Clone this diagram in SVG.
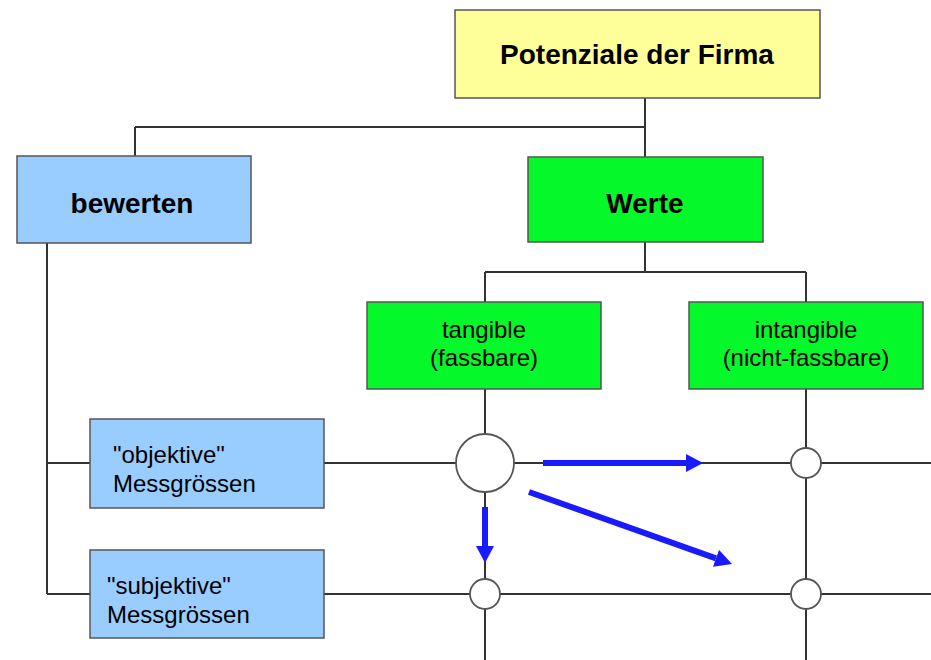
<svg xmlns="http://www.w3.org/2000/svg" width="931" height="660" viewBox="0 0 931 660">
  <style>
    .box { stroke: #555; stroke-width: 1.5; }
    .yellow { fill: #FFFF99; }
    .blue { fill: #99CCFF; }
    .green { fill: #05F82A; }
    .title { font-family: "Liberation Sans", Arial, sans-serif; font-weight: bold; font-size: 28px; fill: #000; text-anchor: middle; }
    .label { font-family: "Liberation Sans", Arial, sans-serif; font-size: 24px; fill: #000; }
    .mid { text-anchor: middle; }
    .wire { stroke: #333; stroke-width: 2; fill: none; }
    .node { fill: #fff; stroke: #555; stroke-width: 1.8; }
    .flow { stroke: #1A1AFF; stroke-width: 6; fill: none; marker-end: url(#head); }
  </style>
  <defs>
    <marker id="head" markerUnits="userSpaceOnUse" markerWidth="18" markerHeight="18" refX="0" refY="9" orient="auto">
      <path d="M0,0 L17,9 L0,18 z" fill="#1A1AFF"/>
    </marker>
  </defs>

  <rect width="931" height="660" fill="#fff"/>

  <!-- tree and grid lines -->
  <g id="connectors">
    <path class="wire" d="M645,98 V157 M135,127 H645 M135,127 V156"/>
    <path class="wire" d="M645,242 V272 M485,272 H806 M485,272 V302 M806,272 V302"/>
    <path class="wire" d="M47,243 V594 M47,463 H90 M47,594 H90"/>
    <path class="wire" d="M324,463 H931 M324,594 H931"/>
    <path class="wire" d="M485,389 V660 M806,389 V660"/>
  </g>

  <!-- crossing points -->
  <g id="crossings">
    <circle class="node" cx="485" cy="463" r="29"/>
    <circle class="node" cx="806" cy="463" r="15"/>
    <circle class="node" cx="485" cy="594" r="15"/>
    <circle class="node" cx="806" cy="594" r="15"/>
  </g>

  <!-- flow arrows -->
  <g id="arrows">
    <line class="flow" x1="543" y1="463" x2="686" y2="463"/>
    <line class="flow" x1="485" y1="507" x2="485" y2="546"/>
    <line class="flow" x1="529" y1="492" x2="716" y2="558.3"/>
  </g>

  <g id="potenziale">
    <rect class="box yellow" x="455" y="10" width="365" height="88"/>
    <text class="title" x="637" y="64">Potenziale der Firma</text>
  </g>

  <g id="bewerten">
    <rect class="box blue" x="17" y="156" width="234" height="87"/>
    <text class="title" x="132" y="213">bewerten</text>
  </g>

  <g id="werte">
    <rect class="box green" x="528" y="157" width="235" height="85"/>
    <text class="title" x="645" y="213">Werte</text>
  </g>

  <g id="tangible">
    <rect class="box green" x="367" y="302" width="234" height="87"/>
    <text class="label mid" x="484" y="338">tangible</text>
    <text class="label mid" x="484" y="366">(fassbare)</text>
  </g>

  <g id="intangible">
    <rect class="box green" x="689" y="302" width="234" height="87"/>
    <text class="label mid" x="806" y="338">intangible</text>
    <text class="label mid" x="806" y="366">(nicht-fassbare)</text>
  </g>

  <g id="objektive">
    <rect class="box blue" x="90" y="419" width="234" height="89"/>
    <text class="label" x="113" y="463">"objektive"</text>
    <text class="label" x="113" y="492">Messgrössen</text>
  </g>

  <g id="subjektive">
    <rect class="box blue" x="90" y="550" width="234" height="88"/>
    <text class="label" x="107" y="594">"subjektive"</text>
    <text class="label" x="107" y="623">Messgrössen</text>
  </g>
</svg>
